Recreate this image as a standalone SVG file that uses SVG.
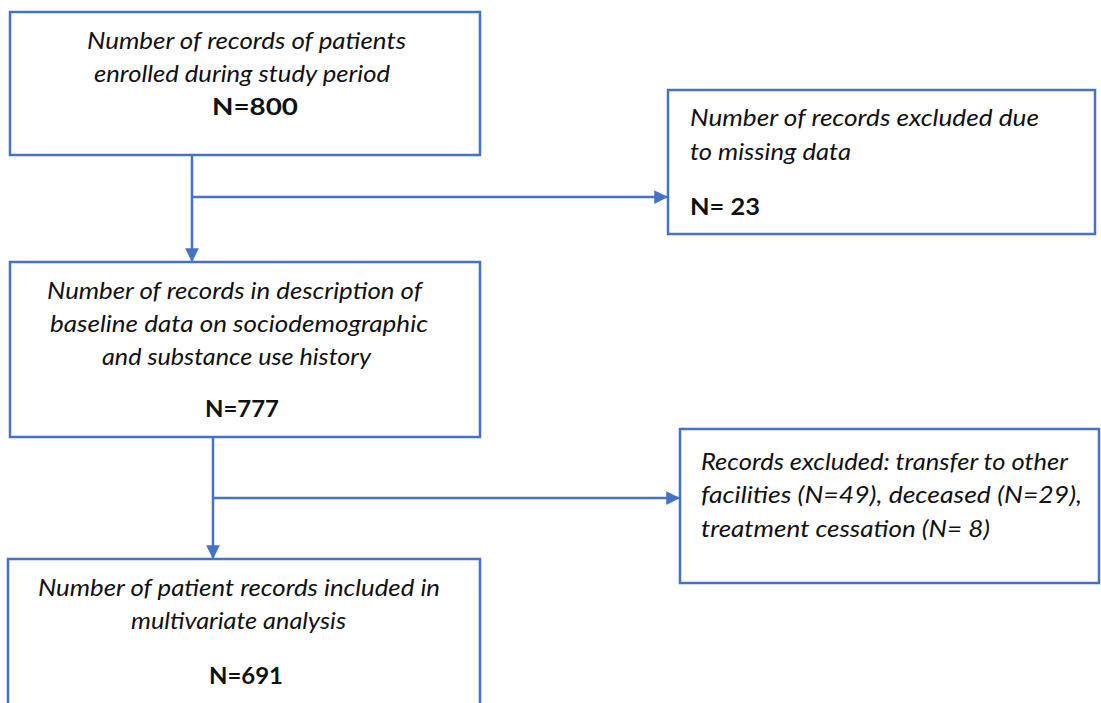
<svg xmlns="http://www.w3.org/2000/svg" width="1101" height="703" viewBox="0 0 1101 703">
<defs>
<marker id="arr" viewBox="0 0 10 10" refX="10" refY="5" markerWidth="5.5" markerHeight="5.5" markerUnits="strokeWidth" orient="auto">
<path d="M0,0 L10,5 L0,10 Z" fill="#4472C4"/>
</marker>
<style>
.box{fill:#fff;stroke:#4472C4;stroke-width:2.5}
.t{font-family:Lato,"Liberation Sans",sans-serif;font-style:italic;font-size:23px;fill:#111}
.b{font-family:Lato,"Liberation Sans",sans-serif;font-weight:bold;font-size:23px;fill:#111}
.c{text-anchor:middle}
.ln{fill:none;stroke:#4472C4;stroke-width:2.5}
</style>
</defs>
<rect width="1101" height="703" fill="#fff"/>
<g id="connectors">
<line class="ln" x1="192" y1="155" x2="192" y2="262" marker-end="url(#arr)"/>
<line class="ln" x1="192" y1="197" x2="668" y2="197" marker-end="url(#arr)"/>
<line class="ln" x1="213" y1="437" x2="213" y2="559" marker-end="url(#arr)"/>
<line class="ln" x1="213" y1="498" x2="680" y2="498" marker-end="url(#arr)"/>
</g>
<g id="n1">
<rect class="box" x="10" y="12" width="470" height="143"/>
<text class="t c" x="246.5" y="49" textLength="319" lengthAdjust="spacingAndGlyphs">Number of records of patients</text>
<text class="t c" x="242" y="82" textLength="296" lengthAdjust="spacingAndGlyphs">enrolled during study period</text>
<text class="b c" x="255" y="115" textLength="86" lengthAdjust="spacingAndGlyphs">N=800</text>
</g>
<g id="n2">
<rect class="box" x="668" y="90" width="427" height="144"/>
<text class="t" x="690" y="126" textLength="349" lengthAdjust="spacingAndGlyphs">Number of records excluded due</text>
<text class="t" x="690" y="160" textLength="161" lengthAdjust="spacingAndGlyphs">to missing data</text>
<text class="b" x="690" y="215" textLength="70" lengthAdjust="spacingAndGlyphs">N= 23</text>
</g>
<g id="n3">
<rect class="box" x="10" y="262" width="470" height="175"/>
<text class="t c" x="234.5" y="299" textLength="375" lengthAdjust="spacingAndGlyphs">Number of records in description of</text>
<text class="t c" x="239" y="332" textLength="378" lengthAdjust="spacingAndGlyphs">baseline data on sociodemographic</text>
<text class="t c" x="236.5" y="365" textLength="269" lengthAdjust="spacingAndGlyphs">and substance use history</text>
<text class="b c" x="242" y="417" textLength="74" lengthAdjust="spacingAndGlyphs">N=777</text>
</g>
<g id="n4">
<rect class="box" x="680" y="429" width="419" height="154"/>
<text class="t" x="701" y="470" textLength="367" lengthAdjust="spacingAndGlyphs">Records excluded: transfer to other</text>
<text class="t" x="701" y="503" textLength="381" lengthAdjust="spacingAndGlyphs">facilities (N=49), deceased (N=29),</text>
<text class="t" x="701" y="537" textLength="289" lengthAdjust="spacingAndGlyphs">treatment cessation (N= 8)</text>
</g>
<g id="n5">
<rect class="box" x="8" y="559" width="472" height="160"/>
<text class="t c" x="239" y="596" textLength="402" lengthAdjust="spacingAndGlyphs">Number of patient records included in</text>
<text class="t c" x="238.5" y="629" textLength="215" lengthAdjust="spacingAndGlyphs">multivariate analysis</text>
<text class="b c" x="246" y="684" textLength="74" lengthAdjust="spacingAndGlyphs">N=691</text>
</g>
</svg>
